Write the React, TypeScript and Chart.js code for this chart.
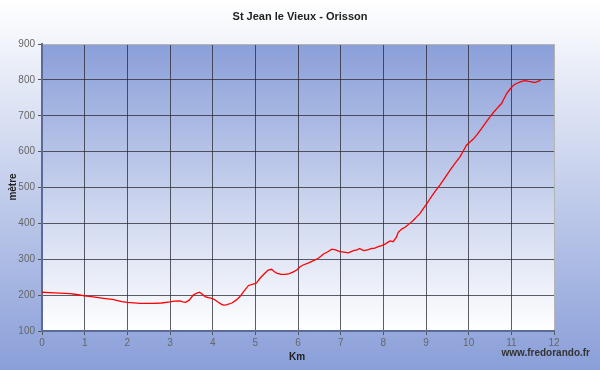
import React, { useEffect, useRef } from "react";
import { Chart, registerables } from "chart.js";
Chart.register(...registerables);

const TITLE = "St Jean le Vieux - Orisson";
const X_TITLE = "Km";
const Y_TITLE = "mètre";
const CREDIT = "www.fredorando.fr";

const distanceKm = [
  0, 0.3, 0.66, 0.85, 1.0, 1.2, 1.44, 1.65, 1.87, 2.0, 2.3, 2.6, 2.8, 3.0, 3.1, 3.23, 3.3, 3.37,
  3.45, 3.55, 3.62, 3.69, 3.75, 3.82, 3.9, 3.98, 4.05, 4.13, 4.2, 4.25, 4.32, 4.45, 4.55, 4.64,
  4.72, 4.84, 4.95, 5.02, 5.11, 5.2, 5.3, 5.38, 5.44, 5.5, 5.6, 5.7, 5.8, 5.89, 5.97, 6.05, 6.12,
  6.25, 6.4, 6.5, 6.59, 6.7, 6.79, 6.88, 6.98, 7.08, 7.18, 7.3, 7.38, 7.45, 7.5, 7.55, 7.65, 7.73,
  7.8, 7.88, 7.96, 8.04, 8.1, 8.16, 8.23, 8.3, 8.35, 8.43, 8.51, 8.62, 8.7, 8.78, 8.86, 8.94, 9.02,
  9.1, 9.2, 9.33, 9.45, 9.56, 9.68, 9.8, 9.88, 9.95, 10.03, 10.11, 10.2, 10.3, 10.4, 10.5, 10.58,
  10.66, 10.72, 10.77, 10.83, 10.89, 10.95, 11.01, 11.06, 11.12, 11.2, 11.28, 11.34, 11.4, 11.46,
  11.51, 11.56, 11.61, 11.65, 11.69,
];

const altitudeM = [
  208, 206, 204, 201, 198, 195, 191, 188, 182, 180, 177, 177, 178, 181, 183, 184, 181, 180,
  186, 201, 205, 208, 203, 196, 193, 191, 187, 180, 175, 172, 173, 178, 186, 196,
  209, 227, 231, 233, 247, 258, 270, 272, 266, 261, 258, 258, 260, 265, 270, 279, 284,
  290, 298, 305, 314, 321, 328, 326, 321, 320, 318, 324, 326, 330, 326, 324, 327, 330,
  331, 335, 338, 342, 347, 351, 349, 360, 375, 384, 389, 400, 408, 418, 428, 442, 455,
  470, 487, 507, 528, 548, 567, 586, 603, 618, 627, 635, 648, 664, 681, 697, 709,
  720, 728, 734, 748, 762, 771, 780, 786, 790, 794, 797, 798, 796, 795,
  793, 793, 795, 797, 799,
];

const X_MIN = 0;
const X_MAX = 12;
const X_STEP = 1;
const Y_MIN = 100;
const Y_MAX = 900;
const Y_STEP = 100;

const FONT = "'Liberation Sans', Arial, sans-serif";
const BLUE = "rgb(138,159,217)";

export default function App() {
  const ref = useRef<HTMLCanvasElement>(null);

  useEffect(() => {
    document.body.style.margin = "0";
    const canvas = ref.current;
    if (!canvas) return;

    const bgPlugin = {
      id: "plotBg",
      beforeDraw(chart: any) {
        const { ctx, chartArea: a } = chart;
        const g = ctx.createLinearGradient(0, a.top, 0, a.bottom);
        g.addColorStop(0, BLUE);
        g.addColorStop(1, "#ffffff");
        ctx.save();
        ctx.fillStyle = g;
        ctx.fillRect(a.left, a.top, a.right - a.left, a.bottom - a.top);
        ctx.restore();
      },
    };

    const textPlugin = {
      id: "texts",
      afterDraw(chart: any) {
        const { ctx } = chart;
        ctx.save();
        ctx.fillStyle = "#222";
        ctx.textBaseline = "middle";
        ctx.textAlign = "center";
        ctx.font = `bold 11px ${FONT}`;
        ctx.fillText(TITLE, 300, 17);
        ctx.font = `bold 10px ${FONT}`;
        ctx.fillText(X_TITLE, 297, 357);
        ctx.save();
        ctx.translate(13, 187);
        ctx.rotate(-Math.PI / 2);
        ctx.fillText(Y_TITLE, 0, 0);
        ctx.restore();
        ctx.textAlign = "right";
        ctx.fillStyle = "#333";
        ctx.font = `bold 10px ${FONT}`;
        ctx.fillText(CREDIT, 590, 353);
        ctx.restore();
      },
    };

    const points = distanceKm.map((x, i) => ({ x, y: altitudeM[i] }));

    const chart = new Chart(canvas, {
      type: "line",
      data: {
        datasets: [
          {
            data: points,
            borderColor: "#ff0000",
            borderWidth: 1.3,
            pointRadius: 0,
            tension: 0,
            fill: false,
          },
        ],
      },
      options: {
        responsive: false,
        animation: false,
        layout: { padding: { left: 0, right: 46, top: 44, bottom: 0 } },
        plugins: {
          legend: { display: false },
          tooltip: { enabled: false },
          title: { display: false },
        },
        scales: {
          x: {
            type: "linear",
            min: X_MIN,
            max: X_MAX,
            ticks: {
              stepSize: X_STEP,
              color: "#666",
              font: { family: FONT, size: 10 },
              padding: 2,
              maxRotation: 0,
            },
            grid: {
              color: (c: any) =>
                c.tick && c.tick.value === X_MAX ? "#b5b5b5" : "rgba(40,40,50,0.75)",
              tickColor: "#555",
              tickLength: 4,
              lineWidth: 1,
            },
            border: { display: true, color: "#5b6a99", width: 2 },
            afterFit(s: any) {
              s.height = 39;
            },
          },
          y: {
            type: "linear",
            min: Y_MIN,
            max: Y_MAX,
            ticks: {
              stepSize: Y_STEP,
              color: "#666",
              font: { family: FONT, size: 10 },
              padding: 3,
            },
            grid: {
              color: (c: any) =>
                c.tick && c.tick.value === Y_MAX ? "#b5b5b5" : "rgba(40,40,50,0.75)",
              tickColor: "#555",
              tickLength: 4,
              lineWidth: 1,
            },
            border: { display: true, color: "#5b6a99", width: 2 },
            afterFit(s: any) {
              s.width = 42;
            },
          },
        },
      },
      plugins: [bgPlugin, textPlugin],
    });

    return () => chart.destroy();
  }, []);

  return (
    <div
      style={{
        position: "fixed",
        left: 0,
        top: 0,
        width: 600,
        height: 370,
        background: `linear-gradient(to bottom, #ffffff 0%, ${BLUE} 100%)`,
      }}
    >
      <canvas ref={ref} width={600} height={370} style={{ display: "block" }} />
    </div>
  );
}
